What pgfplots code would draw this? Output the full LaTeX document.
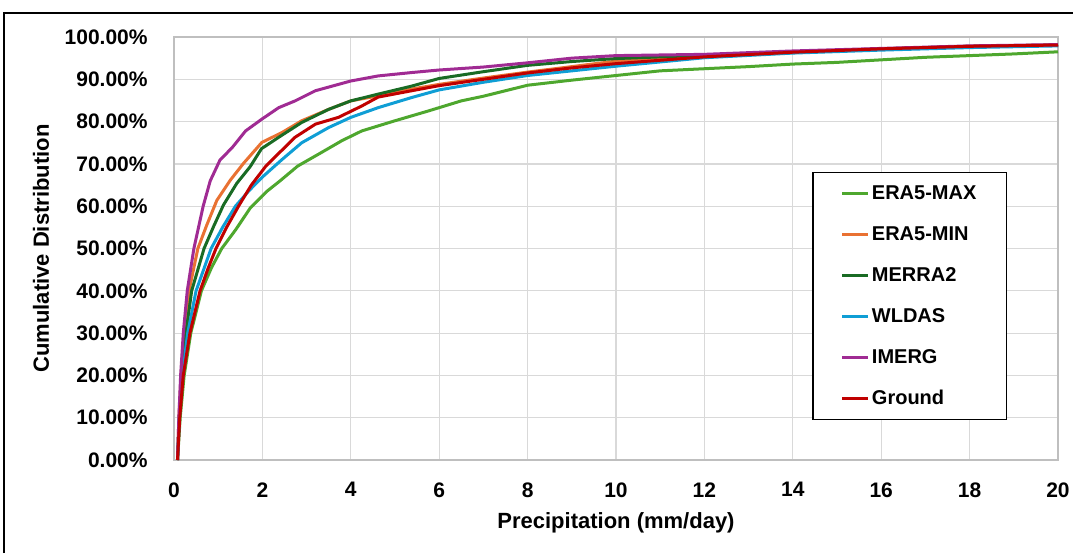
\documentclass[border=0pt]{standalone}
\usepackage{fontspec}
\setmainfont{Liberation Sans}
\usepackage{pgfplots}
\pgfplotsset{compat=1.18}

\definecolor{eramax}{HTML}{4EA72E}
\definecolor{eramin}{HTML}{E97132}
\definecolor{merra}{HTML}{196B24}
\definecolor{wldas}{HTML}{0F9ED5}
\definecolor{imerg}{HTML}{A02B93}
\definecolor{ground}{HTML}{C00000}

\pgfplotsset{
  legend image code/.code={\draw[#1] (0pt,0pt) -- (13pt,0pt);},
  cdf/.style={line width=1.5pt, no markers},
}

\begin{document}
\begin{tikzpicture}
\useasboundingbox (0pt,0pt) rectangle (536.5pt,276.5pt);
\draw[line width=1pt] (2pt,0pt) -- (2pt,270pt) -- (540pt,270pt);
\begin{axis}[
  at={(87pt,46.5pt)}, anchor=south west,
  scale only axis, width=442pt, height=211.5pt,
  xmin=0, xmax=20, ymin=0, ymax=100,
  xtick={0,2,...,20}, ytick={0,10,...,100},
  major tick length=0pt,
  grid=major, major grid style={black!15, line width=0.6pt},
  axis line style={black!25, line width=0.6pt},
  /pgf/number format/assume math mode=true,
  ticklabel style={font=\bfseries\fontsize{10.5}{12}\selectfont},
  yticklabel={\pgfmathprintnumber[fixed,fixed zerofill,precision=2]{\tick}\%},
  yticklabel style={anchor=east, inner sep=0pt, xshift=-13pt},
  xticklabel style={anchor=north, inner sep=0pt, yshift=-11pt},
  every axis x label/.style={at={(axis description cs:0.5,-0.149)}, anchor=center,
    font=\bfseries\fontsize{11}{13}\selectfont},
  every axis y label/.style={at={(axis description cs:-0.1505,0.5)}, rotate=90, anchor=center,
    font=\bfseries\fontsize{11}{13}\selectfont},
  xlabel={Precipitation (mm/day)},
  ylabel={Cumulative Distribution},
  legend cell align=left,
  legend style={at={(0.9423,0.6809)}, anchor=north east, draw=black, line width=0.6pt,
    fill=white, font=\bfseries\fontsize{10}{12}\selectfont, row sep=9pt,
    inner xsep=14pt, inner ysep=4.75pt,
    nodes={text height=7.5pt, text depth=2pt, inner sep=1pt}},
]
\addplot[cdf, eramax] coordinates {
(0.08,0)(0.14,10)(0.23,20)(0.38,30)(0.62,40)(0.85,45.5)(1.08,50)
(1.4,54.5)(1.72,59.5)(2.1,63.5)(2.4,66)(2.8,69.5)(3.27,72.3)(3.8,75.5)(4.25,77.8)
(5.0,80.2)(5.75,82.5)(6.5,84.9)(7,86)(8,88.6)(9,89.8)(10,90.9)(11,92)(12,92.5)(13,93)
(14,93.6)(15,94)(16,94.6)(17,95.2)(18,95.6)(19,96)(20,96.5)
};
\addlegendentry{ERA5-MAX}
\addplot[cdf, eramin] coordinates {
(0.08,0)(0.11,10)(0.16,20)(0.23,30)(0.34,40)(0.54,50)(0.74,55.5)(0.97,61.4)(1.27,66.1)
(1.57,70.1)(1.83,73.2)(1.99,75.1)(2.44,77.4)(2.89,80.2)(3.5,82.9)(4.0,84.9)(4.62,86.1)
(5.38,87.7)(6.0,88.8)(7,90.3)(8,91.7)(9,93)(10,94.3)(12,95.4)(14,96.3)(16,97.1)(18,97.8)(20,98.1)
};
\addlegendentry{ERA5-MIN}
\addplot[cdf, merra] coordinates {
(0.08,0)(0.12,10)(0.18,20)(0.27,30)(0.4,40)(0.68,50)(0.9,55.3)(1.12,60.3)
(1.42,65.4)(1.72,69.3)(1.98,73.6)(2.37,76.3)(2.89,79.8)(3.5,82.9)(4.0,84.9)(4.62,86.5)
(5.38,88.4)(6.0,90.2)(7,91.8)(8,93.3)(9,94.2)(10,94.9)(12,95.7)(14,96.4)(16,97.2)(18,97.8)(20,98.1)
};
\addlegendentry{MERRA2}
\addplot[cdf, wldas] coordinates {
(0.08,0)(0.12,10)(0.19,20)(0.31,30)(0.5,40)(0.84,50)
(1.1,55)(1.39,60)(1.7,63.7)(1.99,66.8)(2.44,71)(2.89,75)(3.5,78.6)(4.0,81)(4.62,83.3)
(5.38,85.7)(6.0,87.5)(7,89.3)(8,90.9)(9,92)(10,93.1)(12,95.1)(14,96.2)(16,96.9)(18,97.5)(20,97.9)
};
\addlegendentry{WLDAS}
\addplot[cdf, imerg] coordinates {
(0.08,0)(0.11,10)(0.15,20)(0.21,30)(0.3,40)(0.45,50)(0.66,60)(0.82,66)
(1.04,70.9)(1.32,73.9)(1.62,77.8)(1.99,80.6)(2.37,83.3)(2.74,84.9)(3.2,87.3)(4.0,89.6)
(4.62,90.8)(5.38,91.6)(6.0,92.2)(7,92.9)(8,93.9)(9,95)(10,95.6)(12,95.9)(14,96.7)(16,97.3)(18,97.9)(20,98.2)
};
\addlegendentry{IMERG}
\addplot[cdf, ground] coordinates {
(0.08,0)(0.13,10)(0.21,20)(0.36,30)(0.59,40)(0.76,45)
(0.95,50)(1.19,55)(1.46,60)(1.75,65)(2.08,69.5)(2.37,72.5)(2.74,76.3)(3.2,79.4)
(3.72,81)(4.25,83.7)(4.62,85.8)(5.38,87.3)(6.0,88.5)(7,90)(8,91.5)(9,92.7)(10,93.7)
(12,95.3)(14,96.4)(16,97.2)(18,97.8)(20,98.1)
};
\addlegendentry{Ground}
\end{axis}
\end{tikzpicture}
\end{document}
